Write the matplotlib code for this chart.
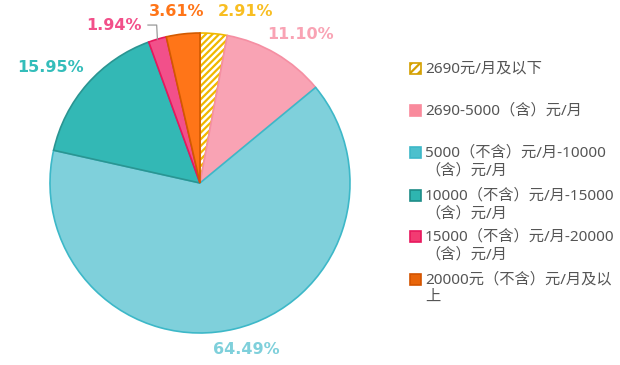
import matplotlib
matplotlib.use("Agg")
import matplotlib.pyplot as plt
from matplotlib.patches import Rectangle
import numpy as np

plt.rcParams['font.family'] = ['Noto Sans', 'Noto Sans CJK SC', 'DejaVu Sans']
plt.rcParams['hatch.linewidth'] = 1.6

categories = ["2690元/月及以下",
              "2690-5000（含）元/月",
              "5000（不含）元/月-10000\n（含）元/月",
              "10000（不含）元/月-15000\n（含）元/月",
              "15000（不含）元/月-20000\n（含）元/月",
              "20000元（不含）元/月及以\n上"]
values = [2.91, 11.10, 64.49, 15.95, 1.94, 3.61]
labels = ["2.91%", "11.10%", "64.49%", "15.95%", "1.94%", "3.61%"]

face_colors = ["#FFFFFF", "#F9A3B4", "#7FD0DB", "#33B8B5", "#F2508A", "#FF7518"]
edge_colors = ["#F0B800", "#F58FA3", "#3DB8C8", "#2A9592", "#E8175D", "#D35A00"]
label_colors = ["#F8BE22", "#F9A3B4", "#7FD0DB", "#33BDBA", "#F2508A", "#FF7518"]
legend_face = ["#F5C518", "#F98A9C", "#4DC0CD", "#2EB5B0", "#F23B72", "#E8650A"]
legend_edge = ["#D4A000", "#F98A9C", "#3DB8C8", "#1E8C88", "#E8175D", "#D35400"]

# label placement (data coords, radius 1 pie)
label_pos = [(0.30, 1.14), (0.667, 0.99), (0.307, -1.113),
             (-0.997, 0.767), (-0.573, 1.05), (-0.153, 1.14)]

W, H = 620, 365
fig = plt.figure(figsize=(W / 100, H / 100), dpi=100)
cx, cy, R = 200, 183, 150
ax = fig.add_axes([(cx - R) / W, (H - cy - R) / H, 2 * R / W, 2 * R / H])
wedges, _ = ax.pie(values, startangle=90, counterclock=False, radius=1,
                   colors=face_colors,
                   wedgeprops=dict(linewidth=1.2))
for w, ec in zip(wedges, edge_colors):
    w.set_edgecolor(ec)
wedges[0].set_hatch('/////')
ax.set_xlim(-1, 1)
ax.set_ylim(-1, 1)
ax.set_aspect('equal')
ax.axis('off')

for (x, y), t, c in zip(label_pos, labels, label_colors):
    ax.text(x, y, t, color=c, fontsize=11.5, fontweight='bold',
            family='DejaVu Sans',
            ha='center', va='center', clip_on=False)

# leader line for small slice 1.94%
cum = np.cumsum([0] + values)
mid = (cum[4] + cum[5]) / 2 / sum(values) * 360
ang = np.deg2rad(90 - mid)
ex, ey = np.cos(ang), np.sin(ang)
ax.plot([-0.347, ex - 0.005, ex], [1.053, 1.053, ey], color='#999999',
        lw=0.9, clip_on=False)

# legend
row_y = [68.5, 110.5, 152.5, 195.5, 236.5, 279.5]
for i, (lab, yc) in enumerate(zip(categories, row_y)):
    rect = Rectangle(((410) / W, (H - yc - 5.5) / H), 11 / W, 11 / H,
                     transform=fig.transFigure, facecolor='white' if i == 0 else legend_face[i],
                     edgecolor=legend_edge[i], linewidth=1.2,
                     hatch='////' if i == 0 else None)
    fig.patches.append(rect)
    fig.text(425 / W, (H - yc + 7) / H, lab, fontsize=11, color='#555555',
             ha='left', va='top', linespacing=1.25)

fig.savefig("out.png", dpi=100)
